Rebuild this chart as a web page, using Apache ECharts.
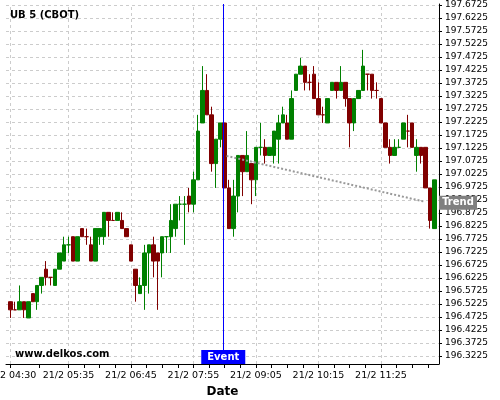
<!DOCTYPE html>
<html><head><meta charset="utf-8">
<script src="https://cdn.jsdelivr.net/npm/echarts@6/dist/echarts.min.js"></script>
<style>html,body{margin:0;padding:0;background:#fff}#c{width:500px;height:400px}</style>
</head><body><div id="c"></div>
<script>
// x axis tick labels and their candle positions (5-minute bars)
const tickLabels = ['21/2 04:30','21/2 05:35','21/2 06:45','21/2 07:55','21/2 09:05','21/2 10:15','21/2 11:25'];
const tickIndex = [0,13,27,41,55,69,83];
const minorTicks = [0,6.5,13,16.5,20,23.5,27,30.5,34,37.5,41,44.5,48,51.5,55,58.5,62,65.5,69,72.5,76,79.5,83,86.5,90,93.5];
// y axis tick labels
const yTicks = [196.3225,196.3725,196.4225,196.4725,196.5225,196.5725,196.6225,196.6725,196.7225,196.7725,
  196.8225,196.8725,196.9225,196.9725,197.0225,197.0725,197.1225,197.1725,197.2225,197.2725,
  197.3225,197.3725,197.4225,197.4725,197.5225,197.5725,197.6225,197.6725];
const yMin = 196.2917, yMax = 197.6763;

const open = [196.5313,196.5,196.5,196.5313,196.4688,196.5625,196.5313,196.5938,196.6563,196.625,
  196.5938,196.6563,196.6875,196.75,196.7813,196.6875,196.8125,196.7813,196.75,196.6875,
  196.7813,196.7813,196.875,196.8438,196.8438,196.8438,196.8125,196.75,196.6563,196.5625,
  196.5938,196.7188,196.75,196.7188,196.7188,196.7813,196.7813,196.8125,196.9063,196.9063,
  196.9375,196.9063,197,197.2188,197.3438,197.25,197.0625,197.1563,197.2188,196.9688,
  196.8125,196.9375,197.0938,197.0313,197.0625,197,197.125,197.125,197.0938,197.0938,
  197.1563,197.2188,197.2188,197.1563,197.3438,197.4063,197.4375,197.375,197.4063,197.3125,
  197.25,197.2188,197.3438,197.375,197.3438,197.375,197.3125,197.2188,197.3125,197.3438,
  197.4063,197.4063,197.3438,197.3125,197.2188,197.125,197.0938,197.125,197.1563,197.1875,
  197.2188,197.0938,197.125,197.125,196.9688,196.8125];
const close = [196.5,196.5,196.5313,196.5,196.5313,196.5313,196.5938,196.625,196.625,196.625,
  196.6563,196.7188,196.75,196.75,196.6875,196.7813,196.7813,196.7813,196.6875,196.8125,
  196.8125,196.875,196.8438,196.8438,196.875,196.8125,196.7813,196.6875,196.5938,196.5938,
  196.7188,196.75,196.6875,196.6875,196.7813,196.7813,196.8438,196.9063,196.9063,196.9063,
  196.9063,197,197.1875,197.3438,197.25,197.0625,197.1563,197.2188,196.9688,196.8125,
  196.9375,197.0938,197.0313,197.0938,197,197.125,197.125,197.0938,197.125,197.1875,
  197.2188,197.25,197.1563,197.3125,197.4063,197.4375,197.375,197.375,197.3125,197.25,
  197.25,197.3125,197.375,197.3438,197.375,197.3125,197.2188,197.3125,197.3438,197.4375,
  197.4063,197.3438,197.3438,197.2188,197.125,197.0938,197.125,197.125,197.2188,197.1875,
  197.125,197.125,197.0938,196.9688,196.8438,197];
const low = [196.4688,196.5,196.5,196.4688,196.4688,196.5313,196.5,196.5625,196.5938,196.5938,
  196.5938,196.6563,196.6875,196.7188,196.6875,196.6875,196.7813,196.75,196.6875,196.6875,
  196.75,196.75,196.7813,196.8438,196.8438,196.8125,196.7813,196.6875,196.5313,196.5625,
  196.5,196.5625,196.625,196.5,196.625,196.7188,196.7188,196.7813,196.8438,196.75,
  196.875,196.875,197,197.2188,197.25,197.0313,196.9688,197.125,196.9688,196.8125,
  196.7813,196.875,196.9375,197.0313,196.9063,196.9375,197.0938,197.0625,197.0938,197.0625,
  197.0625,197.2188,197.1563,197.1563,197.3438,197.4063,197.3438,197.3438,197.3125,197.25,
  197.2188,197.2188,197.3438,197.3125,197.3438,197.2813,197.125,197.1875,197.3125,197.3438,
  197.3438,197.3125,197.3125,197.2188,197.125,197.0625,197.0938,197.125,197.1563,197.125,
  197.125,197.0313,197.0625,196.9688,196.8125,196.8125];
const high = [196.5313,196.5313,196.5938,196.5313,196.5313,196.5625,196.5938,196.625,196.6875,196.625,
  196.6563,196.7188,196.7813,196.7813,196.7813,196.7813,196.8125,196.8125,196.7813,196.8125,
  196.8125,196.875,196.875,196.875,196.875,196.875,196.8125,196.75,196.6563,196.625,
  196.75,196.75,196.7813,196.7188,196.7813,196.7813,196.9063,196.9063,196.9375,196.9375,
  196.9688,197.0313,197.25,197.4375,197.4063,197.2813,197.1563,197.2188,197.2188,197,
  197,197.0938,197.0938,197.1875,197.0625,197.125,197.2188,197.1563,197.125,197.1875,
  197.25,197.2813,197.25,197.3438,197.4063,197.4688,197.4375,197.4063,197.4375,197.375,
  197.2813,197.3125,197.375,197.375,197.4375,197.375,197.3125,197.3125,197.3438,197.5,
  197.4063,197.4063,197.375,197.3125,197.2188,197.1563,197.1563,197.1563,197.2188,197.25,
  197.2188,197.1563,197.125,197.125,196.9688,197];

const eventIndex = 47.67;           // event time (in bars from 04:30)
const trendX = [48.4, 92.8];
const trendY = [197.092, 196.916];

const UP = '#008000', DOWN = '#800000';
const FONT = 'DejaVu Sans';

let prevColor = UP;
const data = open.map((o, i) => {
  const c = close[i];
  const item = { value: [i, o, c, low[i], high[i]] };
  let col;
  if (c > o) col = UP;
  else if (c < o) col = DOWN;
  else {
    const pc = i > 0 ? close[i - 1] : c;
    col = c > pc ? UP : (c < pc ? DOWN : prevColor);
    item.itemStyle = { color: col, color0: col, borderColor: col, borderColor0: col, borderColorDoji: col };
  }
  prevColor = col;
  return item;
});

const gridStyle = { type: [3, 3], color: '#cccccc', width: 1 };
const gridLines = yTicks.map(v => ({ yAxis: v })).concat(tickIndex.map(v => ({ xAxis: v })));

const chart = echarts.init(document.getElementById('c'), null, { renderer: 'canvas' });
chart.setOption({
  animation: false,
  backgroundColor: '#fff',
  title: [
    { text: 'UB 5 (CBOT)', left: 10, top: 10, padding: 0,
      textStyle: { fontSize: 10, fontWeight: 'bold', color: '#000', fontFamily: FONT } },
    { text: 'www.delkos.com', left: 15, top: 349, padding: 0,
      textStyle: { fontSize: 10, fontWeight: 'bold', color: '#000', fontFamily: FONT } }
  ],
  grid: { left: 6, right: 61, top: 4, bottom: 36, containLabel: false, outerBoundsMode: 'none' },
  xAxis: {
    type: 'value', min: -1, max: 96,
    name: 'Date', nameLocation: 'middle', nameGap: 17,
    nameTextStyle: { fontSize: 12, fontWeight: 'bold', color: '#000', fontFamily: FONT },
    axisLine: { show: true, onZero: false, lineStyle: { color: '#000', width: 1 } },
    axisTick: { show: true, customValues: minorTicks, length: 4, lineStyle: { color: '#000' } },
    axisLabel: { customValues: tickIndex, margin: 7, fontSize: 9.5, color: '#000', fontFamily: FONT,
      hideOverlap: false,
      formatter: v => tickLabels[tickIndex.indexOf(Math.round(v))] || '' },
    splitLine: { show: false }
  },
  yAxis: {
    type: 'value', position: 'right', min: yMin, max: yMax, scale: true,
    axisLine: { show: true, onZero: false, lineStyle: { color: '#000', width: 1 } },
    axisTick: { show: true, customValues: yTicks, length: 3, lineStyle: { color: '#000' } },
    axisLabel: { customValues: yTicks, margin: 6, fontSize: 9, color: '#000', fontFamily: FONT,
      formatter: v => v.toFixed(4) },
    splitLine: { show: false }
  },
  series: [{
    type: 'line', data: [], z: 1, silent: true,
    markLine: {
      silent: true, symbol: ['none', 'none'], animation: false, z: 1,
      label: { show: false }, lineStyle: gridStyle,
      emphasis: { disabled: true },
      data: gridLines
    }
  }, {
    type: 'candlestick',
    z: 3,
    clip: false,
    barWidth: 4,
    encode: { x: 0, y: [1, 2, 3, 4] },
    itemStyle: { color: UP, color0: DOWN, borderColor: UP, borderColor0: DOWN, borderWidth: 1 },
    data: data,
    markLine: {
      silent: true, symbol: ['none', 'none'], animation: false,
      label: { show: false },
      lineStyle: { color: '#999999', width: 2, type: [2, 2] },
      data: [
        { xAxis: eventIndex, lineStyle: { color: '#0000ff', width: 1, type: 'solid' } },
        [ { coord: [trendX[0], trendY[0]], lineStyle: { color: '#999999', width: 2, type: [2, 2] } },
          { coord: [trendX[1], trendY[1]], lineStyle: { color: '#999999', width: 2, type: [2, 2] } } ]
      ]
    },
    markPoint: {
      silent: true, animation: false,
      data: [
        { coord: [eventIndex, yMin], symbol: 'rect', symbolSize: [44, 14], symbolOffset: [0, -7],
          itemStyle: { color: '#0000ff' },
          label: { show: true, formatter: 'Event', color: '#fff', fontWeight: 'bold', fontSize: 10, fontFamily: FONT } },
        { coord: [96, trendY[1]], symbol: 'rect', symbolSize: [38, 14], symbolOffset: [19, 1],
          itemStyle: { color: '#808080' },
          label: { show: true, formatter: 'Trend', color: '#fff', fontWeight: 'bold', fontSize: 10, fontFamily: FONT } }
      ]
    }
  }]
});
</script>
</body></html>
